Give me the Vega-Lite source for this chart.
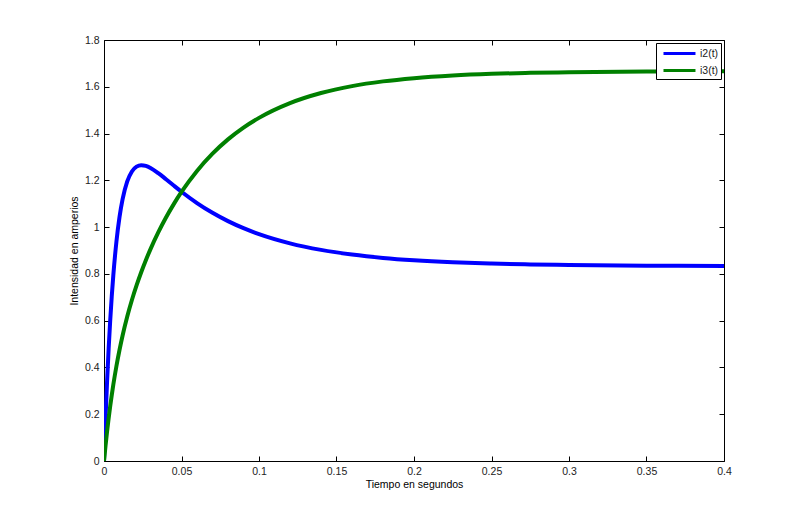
{
  "$schema": "https://vega.github.io/schema/vega-lite/v6.json",
  "autosize": "none",
  "width": 620,
  "height": 421,
  "padding": {"left": 104, "top": 40, "right": 76, "bottom": 57},
  "background": "white",
  "config": {
    "font": "Liberation Sans",
    "view": {"stroke": "#000000", "strokeWidth": 1},
    "axis": {"grid": false, "domain": false, "labelFlush": false, "labelFont": "Liberation Sans", "titleFont": "Liberation Sans", "labelFontSize": 10.5, "titleFontSize": 10.5, "titleFontWeight": "normal", "labelColor": "#222222", "titleColor": "#000000", "tickColor": "#000000", "tickSize": -5}
  },
  "data": {"values": [
    {"t": 0, "s": "i2(t)", "v": 0}, {"t": 0.001, "s": "i2(t)", "v": 0.1834}, {"t": 0.002, "s": "i2(t)", "v": 0.3423}, {"t": 0.003, "s": "i2(t)", "v": 0.4804}, {"t": 0.004, "s": "i2(t)", "v": 0.6}, {"t": 0.005, "s": "i2(t)", "v": 0.7036}, {"t": 0.006, "s": "i2(t)", "v": 0.7931}, {"t": 0.008, "s": "i2(t)", "v": 0.9368}, {"t": 0.01, "s": "i2(t)", "v": 1.0426}, {"t": 0.012, "s": "i2(t)", "v": 1.1196}, {"t": 0.015, "s": "i2(t)", "v": 1.1952}, {"t": 0.018, "s": "i2(t)", "v": 1.2379}, {"t": 0.021, "s": "i2(t)", "v": 1.2586}, {"t": 0.024, "s": "i2(t)", "v": 1.2648}, {"t": 0.027, "s": "i2(t)", "v": 1.2618}, {"t": 0.03, "s": "i2(t)", "v": 1.2529}, {"t": 0.035, "s": "i2(t)", "v": 1.2308}, {"t": 0.04, "s": "i2(t)", "v": 1.2046}, {"t": 0.045, "s": "i2(t)", "v": 1.1776}, {"t": 0.05, "s": "i2(t)", "v": 1.1512}, {"t": 0.06, "s": "i2(t)", "v": 1.1028}, {"t": 0.07, "s": "i2(t)", "v": 1.0611}, {"t": 0.08, "s": "i2(t)", "v": 1.0256}, {"t": 0.09, "s": "i2(t)", "v": 0.9955}, {"t": 0.1, "s": "i2(t)", "v": 0.9701}, {"t": 0.12, "s": "i2(t)", "v": 0.9307}, {"t": 0.14, "s": "i2(t)", "v": 0.9026}, {"t": 0.16, "s": "i2(t)", "v": 0.8827}, {"t": 0.18, "s": "i2(t)", "v": 0.8684}, {"t": 0.2, "s": "i2(t)", "v": 0.8583}, {"t": 0.225, "s": "i2(t)", "v": 0.8496}, {"t": 0.25, "s": "i2(t)", "v": 0.844}, {"t": 0.275, "s": "i2(t)", "v": 0.8403}, {"t": 0.3, "s": "i2(t)", "v": 0.8379}, {"t": 0.35, "s": "i2(t)", "v": 0.8353}, {"t": 0.4, "s": "i2(t)", "v": 0.8341},
    {"t": 0, "s": "i3(t)", "v": 0}, {"t": 0.001, "s": "i3(t)", "v": 0.0663}, {"t": 0.002, "s": "i3(t)", "v": 0.127}, {"t": 0.003, "s": "i3(t)", "v": 0.1827}, {"t": 0.004, "s": "i3(t)", "v": 0.2341}, {"t": 0.005, "s": "i3(t)", "v": 0.2816}, {"t": 0.006, "s": "i3(t)", "v": 0.3257}, {"t": 0.008, "s": "i3(t)", "v": 0.4051}, {"t": 0.01, "s": "i3(t)", "v": 0.4746}, {"t": 0.012, "s": "i3(t)", "v": 0.5365}, {"t": 0.015, "s": "i3(t)", "v": 0.6176}, {"t": 0.018, "s": "i3(t)", "v": 0.6883}, {"t": 0.021, "s": "i3(t)", "v": 0.7508}, {"t": 0.024, "s": "i3(t)", "v": 0.8072}, {"t": 0.027, "s": "i3(t)", "v": 0.8586}, {"t": 0.03, "s": "i3(t)", "v": 0.9059}, {"t": 0.035, "s": "i3(t)", "v": 0.9773}, {"t": 0.04, "s": "i3(t)", "v": 1.0411}, {"t": 0.045, "s": "i3(t)", "v": 1.0984}, {"t": 0.05, "s": "i3(t)", "v": 1.1503}, {"t": 0.06, "s": "i3(t)", "v": 1.2401}, {"t": 0.07, "s": "i3(t)", "v": 1.3139}, {"t": 0.08, "s": "i3(t)", "v": 1.375}, {"t": 0.09, "s": "i3(t)", "v": 1.4254}, {"t": 0.1, "s": "i3(t)", "v": 1.4671}, {"t": 0.12, "s": "i3(t)", "v": 1.5302}, {"t": 0.14, "s": "i3(t)", "v": 1.5734}, {"t": 0.16, "s": "i3(t)", "v": 1.6029}, {"t": 0.18, "s": "i3(t)", "v": 1.6231}, {"t": 0.2, "s": "i3(t)", "v": 1.6368}, {"t": 0.225, "s": "i3(t)", "v": 1.6481}, {"t": 0.25, "s": "i3(t)", "v": 1.6552}, {"t": 0.275, "s": "i3(t)", "v": 1.6595}, {"t": 0.3, "s": "i3(t)", "v": 1.6622}, {"t": 0.35, "s": "i3(t)", "v": 1.665}, {"t": 0.4, "s": "i3(t)", "v": 1.666}
  ]},
  "layer": [
    {
      "mark": {"type": "line", "strokeWidth": 4, "interpolate": "monotone", "clip": true},
      "encoding": {
        "x": {"field": "t", "type": "quantitative", "scale": {"domain": [0, 0.4], "nice": false, "zero": false},
          "axis": {"title": "Tiempo en segundos", "values": [0, 0.05, 0.1, 0.15, 0.2, 0.25, 0.3, 0.35, 0.4], "format": "~g", "labelPadding": 10, "titlePadding": 3, "orient": "bottom"}},
        "y": {"field": "v", "type": "quantitative", "scale": {"domain": [0, 1.8], "nice": false},
          "axis": {"title": "Intensidad en amperios", "values": [0, 0.2, 0.4, 0.6, 0.8, 1, 1.2, 1.4, 1.6, 1.8], "format": "~g", "labelPadding": 10, "titlePadding": 5, "orient": "left"}},
        "color": {"field": "s", "type": "nominal", "scale": {"domain": ["i2(t)", "i3(t)"], "range": ["#0000FF", "#008000"]},
          "legend": {"title": null, "orient": "top-right", "offset": 3, "symbolType": "M-0.43,0H4.14", "symbolStrokeWidth": 3, "symbolSize": 196, "labelFont": "Liberation Sans", "labelFontSize": 10.5, "labelColor": "#222222", "strokeColor": "#000000", "fillColor": "#ffffff", "padding": 2, "rowPadding": 2, "labelOffset": 25}}
      }
    },
    {
      "mark": {"type": "line", "opacity": 0},
      "encoding": {
        "x": {"field": "t", "type": "quantitative", "axis": {"orient": "top", "title": null, "labels": false, "values": [0, 0.05, 0.1, 0.15, 0.2, 0.25, 0.3, 0.35, 0.4]}},
        "y": {"field": "v", "type": "quantitative", "axis": {"orient": "right", "title": null, "labels": false, "values": [0, 0.2, 0.4, 0.6, 0.8, 1, 1.2, 1.4, 1.6, 1.8]}}
      }
    }
  ],
  "resolve": {"axis": {"x": "independent", "y": "independent"}}
}
